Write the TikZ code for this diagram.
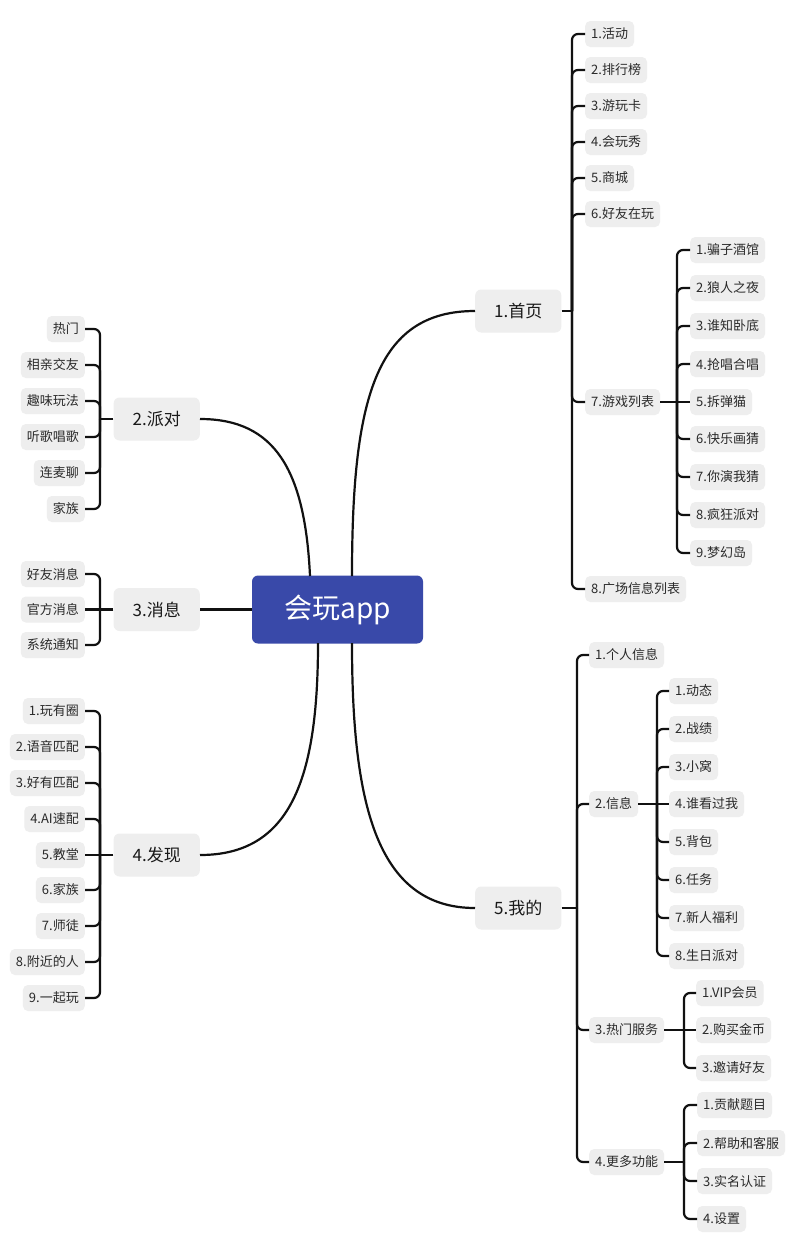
\documentclass[tikz,border=0pt]{standalone}
\usepackage{fontspec}
\setmainfont{Noto Sans CJK SC}
\usetikzlibrary{calc}
\definecolor{leafgray}{HTML}{EEEEEE}
\definecolor{txtc}{HTML}{2A2A2A}
\definecolor{linec}{HTML}{111111}
\definecolor{rootblue}{HTML}{3949A9}
\begin{document}
\begin{tikzpicture}[x=1pt,y=-1pt,
  leaf/.style={fill=leafgray, rounded corners=5pt, text=txtc, font=\fontsize{13}{15}\selectfont, inner xsep=6pt, inner ysep=0pt, minimum height=26pt},
  mainn/.style={fill=leafgray, rounded corners=6pt, text=black!90, font=\fontsize{17}{20}\selectfont, inner xsep=19pt, inner ysep=0pt, minimum height=43pt},
  rootn/.style={fill=rootblue, rounded corners=6pt, text=white, font=\fontsize{28}{32}\selectfont, minimum width=171pt, minimum height=68pt, inner sep=0pt},
  link/.style={line width=2.2pt, draw=linec},
  br/.style={link, rounded corners=6pt}]
\useasboundingbox (0,0) rectangle (799,1251);
\fill[white] (0,0) rectangle (799,1251);

% root
\node[rootn] (root) at (337.5,609.5) {会玩app};
\coordinate (rtl) at (310,576);
\coordinate (rtr) at (352,576);
\coordinate (rbl) at (318,643);
\coordinate (rbr) at (352,643);

% main nodes
\node[mainn, anchor=west] (home) at (475,311) {1.首页};
\node[mainn, anchor=east] (party) at (200,419) {2.派对};
\node[mainn, anchor=east] (msg) at (200,609.5) {3.消息};
\node[mainn, anchor=east] (find) at (200,855) {4.发现};
\node[mainn, anchor=west] (mine) at (475,908) {5.我的};

\draw[link] (rtr) .. controls (352,400) and (375,311) .. (home.west);
\draw[link] (rtl) .. controls (305,470) and (275,419) .. (party.east);
\draw[link] (root.west) -- (msg.east);
\draw[link] (rbl) .. controls (318,780) and (290,855) .. (find.east);
\draw[link] (rbr) .. controls (352,800) and (375,908) .. (mine.west);

% 1.首页 children
\node[leaf, anchor=west] (h1) at (585,34) {1.活动};
\node[leaf, anchor=west] (h2) at (585,70) {2.排行榜};
\node[leaf, anchor=west] (h3) at (585,106) {3.游玩卡};
\node[leaf, anchor=west] (h4) at (585,142) {4.会玩秀};
\node[leaf, anchor=west] (h5) at (585,178) {5.商城};
\node[leaf, anchor=west] (h6) at (585,214) {6.好友在玩};
\node[leaf, anchor=west] (h7) at (585,402) {7.游戏列表};
\node[leaf, anchor=west] (h8) at (585,589) {8.广场信息列表};
\coordinate (bh) at (572,311);
\draw[link] (home.east) -- (bh);
\foreach \c in {h1,h2,h3,h4,h5,h6,h7,h8} \draw[br] (bh) |- (\c.west);

% 7.游戏列表 children
\node[leaf, anchor=west] (g1) at (690,250) {1.骗子酒馆};
\node[leaf, anchor=west] (g2) at (690,288) {2.狼人之夜};
\node[leaf, anchor=west] (g3) at (690,326) {3.谁知卧底};
\node[leaf, anchor=west] (g4) at (690,364) {4.抢唱合唱};
\node[leaf, anchor=west] (g5) at (690,402) {5.拆弹猫};
\node[leaf, anchor=west] (g6) at (690,439) {6.快乐画猜};
\node[leaf, anchor=west] (g7) at (690,477) {7.你演我猜};
\node[leaf, anchor=west] (g8) at (690,515) {8.疯狂派对};
\node[leaf, anchor=west] (g9) at (690,553) {9.梦幻岛};
\coordinate (bg) at (677,402);
\draw[link] (h7.east) -- (bg);
\foreach \c in {g1,g2,g3,g4,g6,g7,g8,g9} \draw[br] (bg) |- (\c.west);
\draw[link] (bg) -- (g5.west);

% 2.派对 children
\node[leaf, anchor=east] (p1) at (85,329) {热门};
\node[leaf, anchor=east] (p2) at (85,365) {相亲交友};
\node[leaf, anchor=east] (p3) at (85,401) {趣味玩法};
\node[leaf, anchor=east] (p4) at (85,437) {听歌唱歌};
\node[leaf, anchor=east] (p5) at (85,473) {连麦聊};
\node[leaf, anchor=east] (p6) at (85,509) {家族};
\coordinate (bp) at (100,419);
\draw[link] (party.west) -- (bp);
\foreach \c in {p1,p2,p3,p4,p5,p6} \draw[br] (bp) |- (\c.east);

% 3.消息 children
\node[leaf, anchor=east] (m1) at (85,574) {好友消息};
\node[leaf, anchor=east] (m2) at (85,609.5) {官方消息};
\node[leaf, anchor=east] (m3) at (85,645) {系统通知};
\coordinate (bm) at (100,609.5);
\draw[link] (msg.west) -- (bm);
\foreach \c in {m1,m3} \draw[br] (bm) |- (\c.east);
\draw[link] (bm) -- (m2.east);

% 4.发现 children
\node[leaf, anchor=east] (f1) at (85,711) {1.玩有圈};
\node[leaf, anchor=east] (f2) at (85,747) {2.语音匹配};
\node[leaf, anchor=east] (f3) at (85,783) {3.好有匹配};
\node[leaf, anchor=east] (f4) at (85,819) {4.AI速配};
\node[leaf, anchor=east] (f5) at (85,855) {5.教堂};
\node[leaf, anchor=east] (f6) at (85,890) {6.家族};
\node[leaf, anchor=east] (f7) at (85,926) {7.师徒};
\node[leaf, anchor=east] (f8) at (85,962) {8.附近的人};
\node[leaf, anchor=east] (f9) at (85,998) {9.一起玩};
\coordinate (bf) at (100,855);
\draw[link] (find.west) -- (bf);
\foreach \c in {f1,f2,f3,f4,f6,f7,f8,f9} \draw[br] (bf) |- (\c.east);
\draw[link] (bf) -- (f5.east);

% 5.我的 children
\node[leaf, anchor=west] (w1) at (589,655) {1.个人信息};
\node[leaf, anchor=west] (w2) at (589,804) {2.信息};
\node[leaf, anchor=west] (w3) at (589,1030) {3.热门服务};
\node[leaf, anchor=west] (w4) at (589,1162) {4.更多功能};
\coordinate (bw) at (577,908);
\draw[link] (mine.east) -- (bw);
\foreach \c in {w1,w2,w3,w4} \draw[br] (bw) |- (\c.west);

% 2.信息 children
\node[leaf, anchor=west] (x1) at (669,691) {1.动态};
\node[leaf, anchor=west] (x2) at (669,729) {2.战绩};
\node[leaf, anchor=west] (x3) at (669,767) {3.小窝};
\node[leaf, anchor=west] (x4) at (669,804) {4.谁看过我};
\node[leaf, anchor=west] (x5) at (669,842) {5.背包};
\node[leaf, anchor=west] (x6) at (669,880) {6.任务};
\node[leaf, anchor=west] (x7) at (669,918) {7.新人福利};
\node[leaf, anchor=west] (x8) at (669,956) {8.生日派对};
\coordinate (bx) at (657,804);
\draw[link] (w2.east) -- (bx);
\foreach \c in {x1,x2,x3,x5,x6,x7,x8} \draw[br] (bx) |- (\c.west);
\draw[link] (bx) -- (x4.west);

% 3.热门服务 children
\node[leaf, anchor=west] (s1) at (696,993) {1.VIP会员};
\node[leaf, anchor=west] (s2) at (696,1030) {2.购买金币};
\node[leaf, anchor=west] (s3) at (696,1068) {3.邀请好友};
\coordinate (bs) at (684,1030);
\draw[link] (w3.east) -- (bs);
\foreach \c in {s1,s3} \draw[br] (bs) |- (\c.west);
\draw[link] (bs) -- (s2.west);

% 4.更多功能 children
\node[leaf, anchor=west] (e1) at (697,1105) {1.贡献题目};
\node[leaf, anchor=west] (e2) at (697,1143) {2.帮助和客服};
\node[leaf, anchor=west] (e3) at (697,1181) {3.实名认证};
\node[leaf, anchor=west] (e4) at (697,1219) {4.设置};
\coordinate (be) at (684,1162);
\draw[link] (w4.east) -- (be);
\foreach \c in {e1,e2,e3,e4} \draw[br] (be) |- (\c.west);
\end{tikzpicture}
\end{document}
